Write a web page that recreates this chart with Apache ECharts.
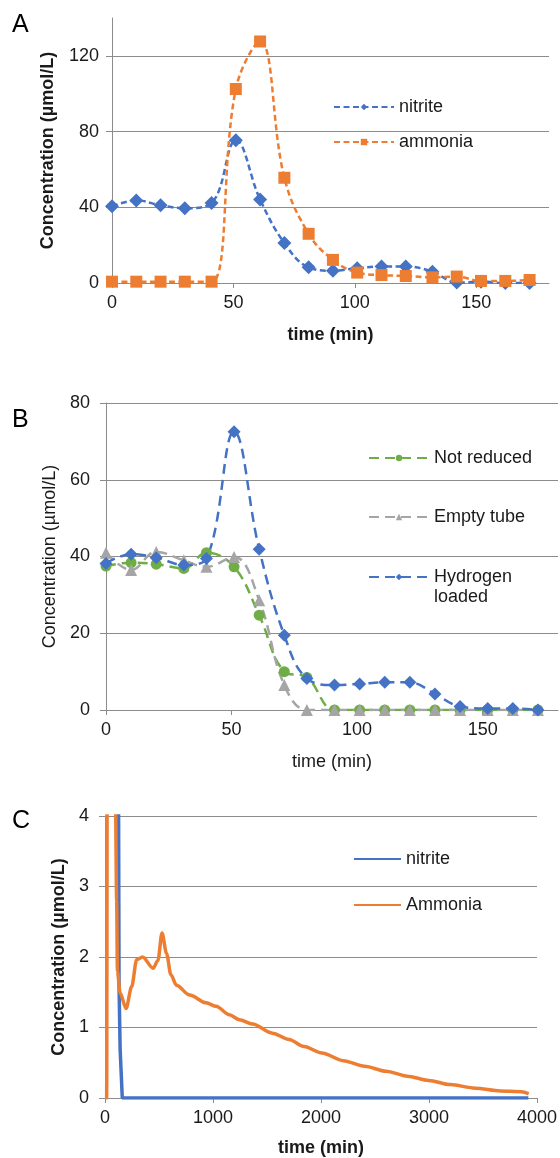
<!DOCTYPE html>
<html>
<head>
<meta charset="utf-8">
<script src="https://cdn.jsdelivr.net/npm/echarts@6/dist/echarts.min.js"></script>
<style>
  html, body { margin: 0; padding: 0; background: #fff; }
  #chart { width: 560px; height: 1158px; }
</style>
</head>
<body>
<div id="chart"></div>
<script>
// Panel A: nitrite / ammonia during the first run (min, µmol/L)
const timeA = [0, 10, 20, 30, 41, 51, 61, 71, 81, 91, 101, 111, 121, 132, 142, 152, 162, 172];
const nitriteA = [40.5, 43.6, 41.1, 39.5, 42.3, 75.4, 44.1, 21.1, 8.3, 6.5, 7.8, 8.7, 8.7, 6, 0.2, 0.7, 0, 0];
const ammoniaA = [0.7, 0.7, 0.7, 0.7, 0.7, 102.5, 127.6, 55.6, 26, 12.2, 5.5, 4.2, 3.7, 3, 3.4, 1.1, 1.1, 1.6];

// Panel B: nitrite for the three tube conditions
const timeB = [0, 10, 20, 31, 40, 51, 61, 71, 80, 91, 101, 111, 121, 131, 141, 152, 162, 172];
const notReduced = [37.5, 38.4, 38, 36.9, 41, 37.3, 24.7, 10, 8.5, 0, 0, 0, 0, 0, 0, 0, 0, 0];
const emptyTube = [41, 36.5, 41.2, 39, 37.3, 39.9, 28.6, 6.5, 0, 0, 0, 0, 0, 0, 0, 0, 0, 0];
const hydrogenLoaded = [38.2, 40.6, 39.7, 37.8, 39.5, 72.5, 41.9, 19.5, 8.2, 6.5, 6.8, 7.2, 7.2, 4.2, 0.9, 0.4, 0.4, 0];

// Panel C: long run, zoomed to 0-4 µmol/L
const timeNitriteC = [0, 100, 125, 130, 140, 160, 3920];
const nitriteC = [40, 40, 4.5, 1.6, 0.7, 0, 0];
const timeAmmoniaC = [0, 15, 55, 95, 108, 115, 140, 195, 247, 293, 348, 446, 490, 528, 570, 610, 661, 784,
  937, 1029, 1152, 1244, 1366, 1550, 1704, 1843, 2008, 2206, 2404, 2602, 2800, 2998, 3197, 3428, 3659, 3857, 3923];
const ammoniaC = [0, 0, 110, 4.5, 2.8, 1.8, 1.49, 1.27, 1.58, 1.96, 2.0, 1.84, 1.95, 2.34, 2.05, 1.75, 1.6, 1.46,
  1.35, 1.3, 1.18, 1.11, 1.05, 0.92, 0.83, 0.73, 0.64, 0.53, 0.45, 0.38, 0.31, 0.25, 0.19, 0.14, 0.10, 0.09, 0.06];

const FONT = '"Liberation Sans", Arial, sans-serif';
const TEXT = '#1a1a1a';
const GRIDC = '#8c8c8c';
const BLUE = '#4472C4';
const ORANGE = '#ED7D31';
const GREEN = '#70AD47';
const GREY = '#A5A5A5';

const pairs = (xs, ys) => xs.map((x, i) => [x, ys[i]]);

function xAxis(gridIndex, max, interval, labels, nameGap, bold) {
  return {
    type: 'value', gridIndex, min: 0, max, interval,
    axisLine: { show: true, onZero: false, lineStyle: { color: GRIDC, width: 1 } },
    axisTick: { show: true, length: 5, customValues: labels, lineStyle: { color: GRIDC } },
    axisLabel: { customValues: labels, formatter: v => String(v),
      margin: 11, fontSize: 18, color: TEXT, fontFamily: FONT },
    splitLine: { show: false },
    name: 'time (min)', nameLocation: 'middle', nameGap,
    nameTextStyle: { fontSize: 18, fontWeight: bold ? 'bold' : 'normal', color: TEXT, fontFamily: FONT }
  };
}

function yAxis(gridIndex, max, interval, labels, nameGap, bold, margin) {
  return {
    type: 'value', gridIndex, min: 0, max, interval,
    axisLine: { show: true, lineStyle: { color: GRIDC, width: 1 } },
    axisTick: { show: true, length: 6, customValues: labels, lineStyle: { color: GRIDC } },
    axisLabel: { customValues: labels, formatter: v => String(v),
      margin, fontSize: 18, color: TEXT, fontFamily: FONT },
    splitLine: { show: true, showMinLine: false, showMaxLine: true,
      lineStyle: { color: GRIDC, width: 1 } },
    name: 'Concentration (µmol/L)', nameLocation: 'middle', nameGap,
    nameTextStyle: { fontSize: 18, fontWeight: bold ? 'bold' : 'normal', color: TEXT, fontFamily: FONT }
  };
}

function dashed(name, xi, xs, ys, color, symbol, size, dash) {
  return {
    type: 'line', name, xAxisIndex: xi, yAxisIndex: xi,
    data: pairs(xs, ys), smooth: 0.4, symbol, symbolSize: size,
    lineStyle: { color, width: 2.5, type: dash },
    itemStyle: { color }
  };
}

const legendText = { fontSize: 18, lineHeight: 20, color: TEXT, fontFamily: FONT };

const chart = echarts.init(document.getElementById('chart'));

chart.setOption({
  animation: false,
  backgroundColor: '#fff',
  grid: [
    { left: 112, right: 11, top: 18, height: 265 },
    { left: 106, right: 2, top: 403, height: 307 },
    { left: 105, right: 20, top: 816, height: 282 }
  ],
  xAxis: [
    xAxis(0, 180, 50, [0, 50, 100, 150], 43, true),
    xAxis(1, 180, 50, [0, 50, 100, 150], 43, false),
    xAxis(2, 4000, 1000, [0, 1000, 2000, 3000, 4000], 41, true)
  ],
  yAxis: [
    yAxis(0, 140, 40, [0, 40, 80, 120], 55, true, 13),
    yAxis(1, 80, 20, [0, 20, 40, 60, 80], 44, false, 16),
    yAxis(2, 4, 1, [0, 1, 2, 3, 4], 31, true, 16)
  ],
  legend: [
    { left: 333, top: 97, orient: 'vertical', padding: 0, itemWidth: 60, itemHeight: 8, itemGap: 15,
      selectedMode: false, data: ['nitrite', 'ammonia'], textStyle: legendText },
    { left: 368, top: 448, padding: 0, itemWidth: 60, itemHeight: 8,
      selectedMode: false, data: ['Not reduced'], textStyle: legendText },
    { left: 368, top: 507, padding: 0, itemWidth: 60, itemHeight: 8,
      selectedMode: false, data: ['Empty tube'], textStyle: legendText },
    // empty first line keeps the icon level with "Hydrogen"
    { left: 368, top: 547, padding: 0, itemWidth: 60, itemHeight: 8,
      selectedMode: false, formatter: n => '\n' + n.replace(' ', '\n'),
      data: ['Hydrogen loaded'], textStyle: legendText },
    { left: 353, top: 849, orient: 'vertical', padding: 0, itemWidth: 47, itemHeight: 8, itemGap: 26,
      selectedMode: false, formatter: n => n.replace(/^C /, ''), itemStyle: { opacity: 0 },
      data: ['C nitrite', 'C Ammonia'], textStyle: legendText }
  ],
  graphic: [
    { type: 'text', left: 12, top: 13, style: { text: 'A', font: '25px "Liberation Sans"', fill: '#000' } },
    { type: 'text', left: 12, top: 408, style: { text: 'B', font: '25px "Liberation Sans"', fill: '#000' } },
    { type: 'text', left: 12, top: 809, style: { text: 'C', font: '25px "Liberation Sans"', fill: '#000' } }
  ],
  series: [
    dashed('nitrite', 0, timeA, nitriteA, BLUE, 'diamond', 14, [6, 3.5]),
    dashed('ammonia', 0, timeA, ammoniaA, ORANGE, 'rect', 12, [6, 3.5]),
    dashed('Not reduced', 1, timeB, notReduced, GREEN, 'circle', 11, [10, 6]),
    dashed('Empty tube', 1, timeB, emptyTube, GREY, 'triangle', 12, [10, 6]),
    dashed('Hydrogen loaded', 1, timeB, hydrogenLoaded, BLUE, 'diamond', 13, [10, 6]),
    {
      type: 'line', name: 'C nitrite', xAxisIndex: 2, yAxisIndex: 2,
      data: pairs(timeNitriteC, nitriteC), symbol: 'none', clip: true,
      lineStyle: { color: BLUE, width: 3.5 }, itemStyle: { color: BLUE }
    },
    {
      type: 'line', name: 'C Ammonia', xAxisIndex: 2, yAxisIndex: 2,
      data: pairs(timeAmmoniaC, ammoniaC), symbol: 'none', clip: true,
      smooth: 0.3, smoothMonotone: 'x',
      lineStyle: { color: ORANGE, width: 3.5 }, itemStyle: { color: ORANGE }
    }
  ]
});
</script>
</body>
</html>
